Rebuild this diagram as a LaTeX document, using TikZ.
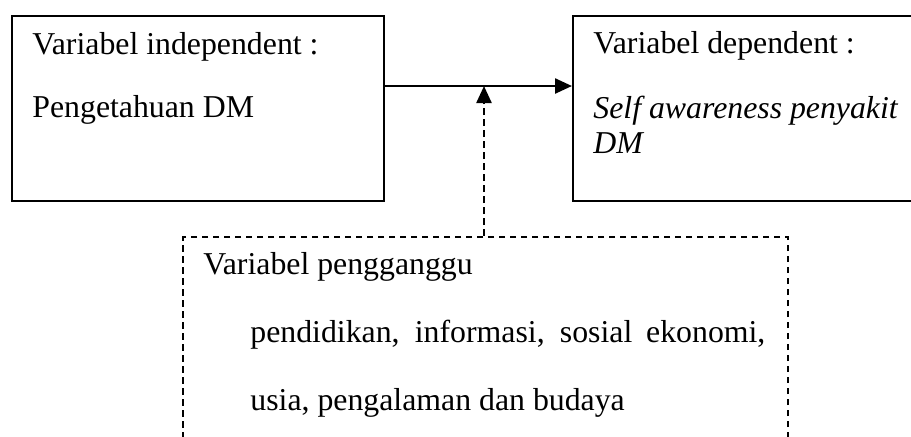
\documentclass[tikz,border=0pt]{standalone}
\usepackage{fontspec}
\setmainfont{Liberation Serif}
\usetikzlibrary{arrows.meta}
\usetikzlibrary{positioning}

\begin{document}
\begin{tikzpicture}[x=0.5pt,y=-0.5pt,
    box/.style={draw,line width=1.2pt,inner sep=0pt,anchor=north west},
    txt/.style={anchor=base west,inner sep=0pt,font=\fontsize{15.9}{19}\selectfont},
    dashbox/.style={dash pattern=on 3.3pt off 2.2pt},
    tip/.style={-{Triangle[length=8.5pt,width=7.5pt]}}]
    %% define points
    \def\Arrowy{86};
    \def\Midx{484};

    %% page
    \clip (0,0) rectangle (911,436);

    %% boxes
    \node[box,minimum width=186pt,minimum height=92.5pt] (indep) at (11,15) {};
    \node[box,minimum width=200pt,minimum height=92.5pt] (dep) at (572,15) {};
    \node[box,dashbox,minimum width=302.5pt,minimum height=150pt] (ganggu) at (182,236) {};

    %% text in the boxes
    \node[txt] (indeplbl) at (32,54) {Variabel independent :};
    \node[txt] (indepval) at (32,117) {Pengetahuan DM};
    \node[txt] (deplbl) at (593,53) {Variabel dependent :};
    \node[txt] (depval) at (593,118) {\itshape Self awareness penyakit};
    \node[txt] (depvalb) at (593,153) {\itshape DM};
    \node[txt] (gangglbl) at (203,274) {Variabel pengganggu};
    \node[txt] (ganggval) at (250,342) {\makebox[257.5pt][s]{pendidikan, informasi, sosial ekonomi,}};
    \node[txt] (ganggvalb) at (250,410) {usia, pengalaman dan budaya};

    %% connectors
    \coordinate (arrowy) at (0,\Arrowy);
    \coordinate (midx) at (\Midx,0);
    \draw[line width=1.2pt,tip] (indep.east |- arrowy) -- (dep.west |- arrowy);
    \draw[line width=1.2pt,dashbox,tip] (ganggu.north -| midx) -- (midx |- arrowy);
\end{tikzpicture}
\end{document}
